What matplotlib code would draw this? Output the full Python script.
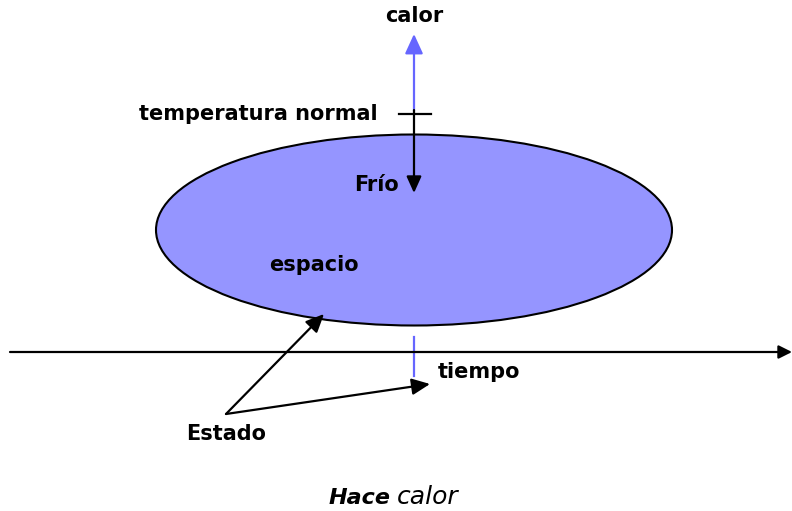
import matplotlib.pyplot as plt
from matplotlib.patches import Ellipse

# diagram elements in pixel coordinates (origin top-left)
labels = ["calor", "temperatura normal", "Frío", "espacio", "tiempo", "Estado"]
label_pos = [(414, 16), (258, 114), (376, 185), (314, 265), (479, 372), (226, 434)]
ellipse_center = (414, 230)
ellipse_size = (516, 191)
estado_origin = (226, 414)
estado_targets = [(324, 314), (430, 384)]

fig = plt.figure(figsize=(7.92, 5.11), dpi=100)
ax = fig.add_axes([0, 0, 1, 1])
ax.set_xlim(0, 792)
ax.set_ylim(511, 0)
ax.axis('off')

ax.add_patch(Ellipse(ellipse_center, *ellipse_size, facecolor='#9595ff',
                     edgecolor='black', lw=1.5, zorder=1))

def arrow(p0, p1, color='black', hl=1.0, hw=0.45):
    ax.annotate('', xy=p1, xytext=p0,
                arrowprops=dict(arrowstyle=f'-|>,head_length={hl},head_width={hw}',
                                color=color, lw=1.6, shrinkA=0, shrinkB=0))

# time axis
arrow((10, 352), (792, 352), hl=0.8, hw=0.4)
ax.plot([414, 414], [337, 376], color='#6666ff', lw=1.6)

# heat axis
arrow((414, 111), (414, 34), color='#6666ff', hl=1.2, hw=0.55)
ax.plot([399, 431], [114, 114], color='black', lw=1.6)
arrow((414, 110), (414, 193))

for t in estado_targets:
    arrow(estado_origin, t, hl=1.1, hw=0.5)

for s, (x, y) in zip(labels, label_pos):
    ax.text(x, y, s, ha='center', va='center', fontsize=15,
            fontweight='bold', family='DejaVu Sans')

ax.text(391, 504, 'Hace', ha='right', va='baseline', fontsize=16,
        fontweight='bold', style='italic', family='DejaVu Sans')
ax.text(397, 504, 'calor', ha='left', va='baseline', fontsize=18,
        style='italic', family='DejaVu Sans')

fig.savefig('out.png', dpi=100)
